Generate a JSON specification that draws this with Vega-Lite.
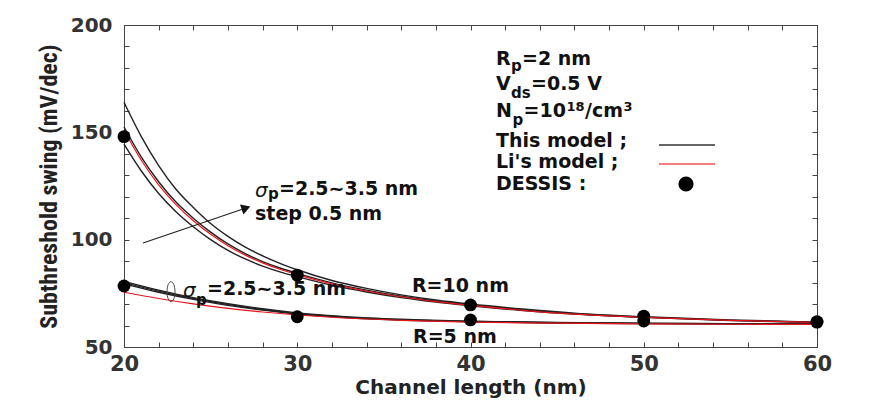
{
  "$schema": "https://vega.github.io/schema/vega-lite/v6.json",
  "width": 693,
  "height": 322,
  "autosize": {"type": "none"},
  "padding": {"left": 124, "top": 25, "right": 78, "bottom": 55},
  "background": "white",
  "config": {"view": {"stroke": "#444", "strokeWidth": 1}, "font": "DejaVu Sans"},
  "datasets": {
    "curves": [
      {"L":20,"S":164,"series":"R10_3.5","model":"This"},{"L":21,"S":148,"series":"R10_3.5","model":"This"},{"L":22,"S":134.5,"series":"R10_3.5","model":"This"},{"L":23,"S":123.5,"series":"R10_3.5","model":"This"},{"L":24,"S":115,"series":"R10_3.5","model":"This"},{"L":25,"S":107.5,"series":"R10_3.5","model":"This"},{"L":26,"S":101.5,"series":"R10_3.5","model":"This"},{"L":27,"S":96.5,"series":"R10_3.5","model":"This"},{"L":28,"S":92.5,"series":"R10_3.5","model":"This"},{"L":29,"S":89,"series":"R10_3.5","model":"This"},{"L":30,"S":86,"series":"R10_3.5","model":"This"},{"L":32,"S":81,"series":"R10_3.5","model":"This"},{"L":34,"S":77.3,"series":"R10_3.5","model":"This"},{"L":36,"S":74.3,"series":"R10_3.5","model":"This"},{"L":38,"S":71.9,"series":"R10_3.5","model":"This"},{"L":40,"S":70,"series":"R10_3.5","model":"This"},{"L":43,"S":67.7,"series":"R10_3.5","model":"This"},{"L":46,"S":65.8,"series":"R10_3.5","model":"This"},{"L":50,"S":64.1,"series":"R10_3.5","model":"This"},{"L":55,"S":62.6,"series":"R10_3.5","model":"This"},{"L":60,"S":61.6,"series":"R10_3.5","model":"This"},
      {"L":20,"S":152.5,"series":"R10_3.0","model":"This"},{"L":21,"S":138.5,"series":"R10_3.0","model":"This"},{"L":22,"S":127,"series":"R10_3.0","model":"This"},{"L":23,"S":117.5,"series":"R10_3.0","model":"This"},{"L":24,"S":110,"series":"R10_3.0","model":"This"},{"L":25,"S":103.5,"series":"R10_3.0","model":"This"},{"L":26,"S":98,"series":"R10_3.0","model":"This"},{"L":27,"S":93.5,"series":"R10_3.0","model":"This"},{"L":28,"S":89.8,"series":"R10_3.0","model":"This"},{"L":29,"S":86.8,"series":"R10_3.0","model":"This"},{"L":30,"S":84.3,"series":"R10_3.0","model":"This"},{"L":32,"S":79.9,"series":"R10_3.0","model":"This"},{"L":34,"S":76.5,"series":"R10_3.0","model":"This"},{"L":36,"S":73.7,"series":"R10_3.0","model":"This"},{"L":38,"S":71.4,"series":"R10_3.0","model":"This"},{"L":40,"S":69.6,"series":"R10_3.0","model":"This"},{"L":43,"S":67.3,"series":"R10_3.0","model":"This"},{"L":46,"S":65.5,"series":"R10_3.0","model":"This"},{"L":50,"S":63.9,"series":"R10_3.0","model":"This"},{"L":55,"S":62.4,"series":"R10_3.0","model":"This"},{"L":60,"S":61.5,"series":"R10_3.0","model":"This"},
      {"L":20,"S":144.5,"series":"R10_2.5","model":"This"},{"L":21,"S":132,"series":"R10_2.5","model":"This"},{"L":22,"S":121.5,"series":"R10_2.5","model":"This"},{"L":23,"S":113,"series":"R10_2.5","model":"This"},{"L":24,"S":106,"series":"R10_2.5","model":"This"},{"L":25,"S":100,"series":"R10_2.5","model":"This"},{"L":26,"S":95,"series":"R10_2.5","model":"This"},{"L":27,"S":91,"series":"R10_2.5","model":"This"},{"L":28,"S":87.7,"series":"R10_2.5","model":"This"},{"L":29,"S":85,"series":"R10_2.5","model":"This"},{"L":30,"S":82.8,"series":"R10_2.5","model":"This"},{"L":32,"S":78.8,"series":"R10_2.5","model":"This"},{"L":34,"S":75.6,"series":"R10_2.5","model":"This"},{"L":36,"S":73,"series":"R10_2.5","model":"This"},{"L":38,"S":70.9,"series":"R10_2.5","model":"This"},{"L":40,"S":69.2,"series":"R10_2.5","model":"This"},{"L":43,"S":67,"series":"R10_2.5","model":"This"},{"L":46,"S":65.3,"series":"R10_2.5","model":"This"},{"L":50,"S":63.8,"series":"R10_2.5","model":"This"},{"L":55,"S":62.3,"series":"R10_2.5","model":"This"},{"L":60,"S":61.4,"series":"R10_2.5","model":"This"},
      {"L":20,"S":151,"series":"R10_Li","model":"Li"},{"L":21,"S":137,"series":"R10_Li","model":"Li"},{"L":22,"S":125.5,"series":"R10_Li","model":"Li"},{"L":23,"S":116.3,"series":"R10_Li","model":"Li"},{"L":24,"S":108.8,"series":"R10_Li","model":"Li"},{"L":25,"S":102.5,"series":"R10_Li","model":"Li"},{"L":26,"S":97.2,"series":"R10_Li","model":"Li"},{"L":27,"S":92.8,"series":"R10_Li","model":"Li"},{"L":28,"S":89.2,"series":"R10_Li","model":"Li"},{"L":29,"S":86.2,"series":"R10_Li","model":"Li"},{"L":30,"S":83.7,"series":"R10_Li","model":"Li"},{"L":32,"S":79.4,"series":"R10_Li","model":"Li"},{"L":34,"S":76.1,"series":"R10_Li","model":"Li"},{"L":36,"S":73.4,"series":"R10_Li","model":"Li"},{"L":38,"S":71.1,"series":"R10_Li","model":"Li"},{"L":40,"S":69.4,"series":"R10_Li","model":"Li"},{"L":43,"S":67.1,"series":"R10_Li","model":"Li"},{"L":46,"S":65.3,"series":"R10_Li","model":"Li"},{"L":50,"S":63.8,"series":"R10_Li","model":"Li"},{"L":55,"S":62.4,"series":"R10_Li","model":"Li"},{"L":60,"S":61.5,"series":"R10_Li","model":"Li"},
      {"L":20,"S":79.4,"series":"R5_2.5","model":"This"},{"L":22,"S":75.5,"series":"R5_2.5","model":"This"},{"L":24,"S":72.2,"series":"R5_2.5","model":"This"},{"L":26,"S":69.4,"series":"R5_2.5","model":"This"},{"L":28,"S":67.2,"series":"R5_2.5","model":"This"},{"L":30,"S":65.3,"series":"R5_2.5","model":"This"},{"L":33,"S":63.6,"series":"R5_2.5","model":"This"},{"L":36,"S":62.5,"series":"R5_2.5","model":"This"},{"L":40,"S":61.8,"series":"R5_2.5","model":"This"},{"L":45,"S":61.2,"series":"R5_2.5","model":"This"},{"L":50,"S":60.9,"series":"R5_2.5","model":"This"},{"L":55,"S":60.7,"series":"R5_2.5","model":"This"},{"L":60,"S":60.6,"series":"R5_2.5","model":"This"},
      {"L":20,"S":80,"series":"R5_3.0","model":"This"},{"L":22,"S":76,"series":"R5_3.0","model":"This"},{"L":24,"S":72.6,"series":"R5_3.0","model":"This"},{"L":26,"S":69.8,"series":"R5_3.0","model":"This"},{"L":28,"S":67.5,"series":"R5_3.0","model":"This"},{"L":30,"S":65.6,"series":"R5_3.0","model":"This"},{"L":33,"S":63.8,"series":"R5_3.0","model":"This"},{"L":36,"S":62.7,"series":"R5_3.0","model":"This"},{"L":40,"S":61.9,"series":"R5_3.0","model":"This"},{"L":45,"S":61.3,"series":"R5_3.0","model":"This"},{"L":50,"S":61,"series":"R5_3.0","model":"This"},{"L":55,"S":60.8,"series":"R5_3.0","model":"This"},{"L":60,"S":60.7,"series":"R5_3.0","model":"This"},
      {"L":20,"S":80.6,"series":"R5_3.5","model":"This"},{"L":22,"S":76.5,"series":"R5_3.5","model":"This"},{"L":24,"S":73,"series":"R5_3.5","model":"This"},{"L":26,"S":70.2,"series":"R5_3.5","model":"This"},{"L":28,"S":67.8,"series":"R5_3.5","model":"This"},{"L":30,"S":65.9,"series":"R5_3.5","model":"This"},{"L":33,"S":64,"series":"R5_3.5","model":"This"},{"L":36,"S":62.9,"series":"R5_3.5","model":"This"},{"L":40,"S":62,"series":"R5_3.5","model":"This"},{"L":45,"S":61.4,"series":"R5_3.5","model":"This"},{"L":50,"S":61.1,"series":"R5_3.5","model":"This"},{"L":55,"S":60.9,"series":"R5_3.5","model":"This"},{"L":60,"S":60.8,"series":"R5_3.5","model":"This"},
      {"L":20,"S":75.5,"series":"R5_Li","model":"Li"},{"L":22,"S":72.6,"series":"R5_Li","model":"Li"},{"L":24,"S":70.1,"series":"R5_Li","model":"Li"},{"L":26,"S":68,"series":"R5_Li","model":"Li"},{"L":28,"S":66.3,"series":"R5_Li","model":"Li"},{"L":30,"S":64.9,"series":"R5_Li","model":"Li"},{"L":33,"S":63.4,"series":"R5_Li","model":"Li"},{"L":36,"S":62.4,"series":"R5_Li","model":"Li"},{"L":40,"S":61.6,"series":"R5_Li","model":"Li"},{"L":45,"S":61.1,"series":"R5_Li","model":"Li"},{"L":50,"S":60.8,"series":"R5_Li","model":"Li"},{"L":55,"S":60.6,"series":"R5_Li","model":"Li"},{"L":60,"S":60.5,"series":"R5_Li","model":"Li"}
    ],
    "dots": [
      {"L":20,"S":148,"R":"10"},{"L":30,"S":83.5,"R":"10"},{"L":40,"S":69.6,"R":"10"},{"L":50,"S":64.4,"R":"10"},{"L":60,"S":61.8,"R":"10"},
      {"L":20,"S":78.4,"R":"5"},{"L":30,"S":64.1,"R":"5"},{"L":40,"S":62.6,"R":"5"},{"L":50,"S":62.1,"R":"5"},{"L":60,"S":61.6,"R":"5"}
    ],
    "labels": [
      {"L":41.472,"S":181.37,"text":"R","role":"main"},
      {"L":42.973,"S":181.37,"text":"=2 nm","role":"main"},
      {"L":41.472,"S":169.72,"text":"V","role":"main"},
      {"L":43.492,"S":169.72,"text":"=0.5 V","role":"main"},
      {"L":41.472,"S":157.14,"text":"N","role":"main"},
      {"L":43.059,"S":157.14,"text":"=10","role":"main"},
      {"L":46.609,"S":157.14,"text":"/cm","role":"main"},
      {"L":41.472,"S":143.17,"text":"This model ;","role":"main"},
      {"L":41.472,"S":133.39,"text":"Li's model ;","role":"main"},
      {"L":41.472,"S":123.14,"text":"DESSIS :","role":"main"},
      {"L":28.947,"S":120.81,"text":"=2.5~3.5 nm","role":"main"},
      {"L":27.561,"S":109.2,"text":"step 0.5 nm","role":"main"},
      {"L":24.791,"S":74.22,"text":"=2.5~3.5 nm","role":"main"},
      {"L":36.623,"S":75.62,"text":"R=10 nm","role":"main"},
      {"L":36.681,"S":51.86,"text":"R=5 nm","role":"main"},
      {"L":42.338,"S":178.57,"text":"p","role":"sub"},
      {"L":42.338,"S":165.99,"text":"ds","role":"sub"},
      {"L":42.424,"S":153.42,"text":"p","role":"sub"},
      {"L":28.312,"S":118.94,"text":"p","role":"sub"},
      {"L":24.156,"S":69.57,"text":"p","role":"sub"},
      {"L":45.541,"S":159.94,"text":"18","role":"sup"},
      {"L":48.831,"S":159.94,"text":"3","role":"sup"},
      {"L":27.561,"S":119.88,"text":"σ","role":"sigma"},
      {"L":23.406,"S":73.29,"text":"σ","role":"sigma"}
    ],
    "arrow": [{"L":21.097,"S":98.45,"L2":27.042,"S2":114.75}],
    "ellipse": [{"L":22.713,"S":75.76}],
    "legendLines": [
      {"L":50.88,"L2":54.113,"S":144.1,"model":"This"},
      {"L":50.88,"L2":54.113,"S":135.25,"model":"Li"}
    ],
    "legendDot": [{"L":52.439,"S":125.93}]
  },
  "resolve": {"axis": {"x": "independent", "y": "independent"}},
  "layer": [
    {
      "data": {"name": "curves"},
      "transform": [{"filter": "datum.model === 'This'"}],
      "mark": {"type": "line", "interpolate": "monotone", "strokeWidth": 1.4, "color": "#222"},
      "encoding": {
        "x": {"field": "L", "type": "quantitative", "scale": {"domain": [20, 60], "nice": false, "zero": false},
          "axis": {"orient": "bottom", "values": [20,22,24,26,28,30,32,34,36,38,40,42,44,46,48,50,52,54,56,58,60],
            "labelExpr": "datum.value % 10 === 0 ? datum.label : ''", "labelOverlap": false, "labelFlush": false,
            "tickSize": -5, "tickColor": "#444", "tickWidth": 1, "grid": false, "domainColor": "#444",
            "labelFont": "DejaVu Sans", "labelFontWeight": "bold", "labelFontSize": 21, "labelColor": "#333", "labelPadding": 11,
            "title": "Channel length (nm)", "titleFont": "DejaVu Sans", "titleFontSize": 20, "titleFontWeight": "bold", "titleColor": "#222", "titlePadding": 3}},
        "y": {"field": "S", "type": "quantitative", "scale": {"domain": [50, 200], "nice": false, "zero": false},
          "axis": {"orient": "left", "values": [50,60,70,80,90,100,110,120,130,140,150,160,170,180,190,200],
            "labelExpr": "datum.value % 50 === 0 ? datum.label : ''", "labelOverlap": false, "labelFlush": false,
            "tickSize": -5, "tickColor": "#444", "tickWidth": 1, "grid": false, "domainColor": "#444",
            "labelFont": "DejaVu Sans", "labelFontWeight": "bold", "labelFontSize": 20, "labelColor": "#333", "labelPadding": 17,
            "title": "Subthreshold swing (mV/dec)", "titleFont": "Liberation Sans Narrow, Roboto Condensed, Liberation Sans", "titleFontSize": 24, "titleFontWeight": "bold", "titleColor": "#222", "titlePadding": 9}},
        "detail": {"field": "series"}
      }
    },
    {
      "data": {"name": "curves"},
      "transform": [{"filter": "datum.model === 'Li'"}],
      "mark": {"type": "line", "interpolate": "monotone", "strokeWidth": 1.2, "color": "#e8141c"},
      "encoding": {
        "x": {"field": "L", "type": "quantitative", "axis": null},
        "y": {"field": "S", "type": "quantitative", "axis": null},
        "detail": {"field": "series"}
      }
    },
    {
      "data": {"name": "dots"},
      "mark": {"type": "point", "shape": "circle", "filled": true, "size": 165, "color": "#000", "opacity": 1},
      "encoding": {
        "x": {"field": "L", "type": "quantitative",
          "axis": {"orient": "top", "values": [20,22,24,26,28,30,32,34,36,38,40,42,44,46,48,50,52,54,56,58,60], "labels": false, "title": null, "grid": false, "domainColor": "#444", "tickColor": "#444", "tickSize": -5}},
        "y": {"field": "S", "type": "quantitative",
          "axis": {"orient": "right", "values": [50,60,70,80,90,100,110,120,130,140,150,160,170,180,190,200], "labels": false, "title": null, "grid": false, "domainColor": "#444", "tickColor": "#444", "tickSize": -5}}
      }
    },
    {
      "data": {"name": "legendDot"},
      "mark": {"type": "point", "shape": "circle", "filled": true, "size": 230, "color": "#000", "opacity": 1},
      "encoding": {"x": {"field": "L", "type": "quantitative", "axis": null}, "y": {"field": "S", "type": "quantitative", "axis": null}}
    },
    {
      "data": {"name": "ellipse"},
      "mark": {"type": "point", "shape": "M0,-1 A0.4,1 0 1,1 0,1 A0.4,1 0 1,1 0,-1 Z", "filled": false, "size": 400, "strokeWidth": 1, "color": "#444", "opacity": 1},
      "encoding": {"x": {"field": "L", "type": "quantitative", "axis": null}, "y": {"field": "S", "type": "quantitative", "axis": null}}
    },
    {
      "data": {"name": "labels"},
      "transform": [{"filter": "datum.role === 'main'"}],
      "mark": {"type": "text", "align": "left", "baseline": "alphabetic", "font": "DejaVu Sans", "fontWeight": "bold", "fontSize": 19, "color": "#111"},
      "encoding": {"x": {"field": "L", "type": "quantitative", "axis": null}, "y": {"field": "S", "type": "quantitative", "axis": null}, "text": {"field": "text"}}
    },
    {
      "data": {"name": "labels"},
      "transform": [{"filter": "datum.role === 'sub'"}],
      "mark": {"type": "text", "align": "left", "baseline": "alphabetic", "font": "DejaVu Sans", "fontWeight": "bold", "fontSize": 15, "color": "#111"},
      "encoding": {"x": {"field": "L", "type": "quantitative", "axis": null}, "y": {"field": "S", "type": "quantitative", "axis": null}, "text": {"field": "text"}}
    },
    {
      "data": {"name": "labels"},
      "transform": [{"filter": "datum.role === 'sup'"}],
      "mark": {"type": "text", "align": "left", "baseline": "alphabetic", "font": "DejaVu Sans", "fontWeight": "bold", "fontSize": 13, "color": "#111"},
      "encoding": {"x": {"field": "L", "type": "quantitative", "axis": null}, "y": {"field": "S", "type": "quantitative", "axis": null}, "text": {"field": "text"}}
    },
    {
      "data": {"name": "labels"},
      "transform": [{"filter": "datum.role === 'sigma'"}],
      "mark": {"type": "text", "align": "left", "baseline": "alphabetic", "font": "DejaVu Sans", "fontStyle": "italic", "fontWeight": "normal", "fontSize": 20, "color": "#111"},
      "encoding": {"x": {"field": "L", "type": "quantitative", "axis": null}, "y": {"field": "S", "type": "quantitative", "axis": null}, "text": {"field": "text"}}
    },
    {
      "data": {"name": "arrow"},
      "mark": {"type": "rule", "strokeWidth": 1.2, "color": "#222"},
      "encoding": {"x": {"field": "L", "type": "quantitative", "axis": null}, "y": {"field": "S", "type": "quantitative", "axis": null}, "x2": {"field": "L2"}, "y2": {"field": "S2"}}
    },
    {
      "data": {"name": "arrow"},
      "mark": {"type": "point", "shape": "triangle-right", "filled": true, "size": 110, "angle": 341, "color": "#111", "opacity": 1},
      "encoding": {"x": {"field": "L2", "type": "quantitative", "axis": null}, "y": {"field": "S2", "type": "quantitative", "axis": null}}
    },
    {
      "data": {"name": "legendLines"},
      "mark": {"type": "rule", "strokeWidth": 1.5},
      "encoding": {"x": {"field": "L", "type": "quantitative", "axis": null}, "x2": {"field": "L2"}, "y": {"field": "S", "type": "quantitative", "axis": null},
        "color": {"field": "model", "type": "nominal", "scale": {"domain": ["This", "Li"], "range": ["#333333", "#f05050"]}, "legend": null}}
    }
  ]
}
